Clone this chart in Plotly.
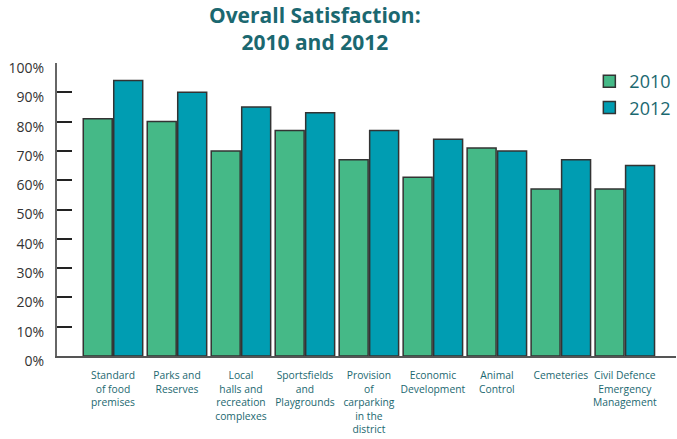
import plotly.graph_objects as go

categories = [
    "Standard<br>of food<br>premises",
    "Parks and<br>Reserves",
    "Local<br>halls and<br>recreation<br>complexes",
    "Sportsfields<br>and<br>Playgrounds",
    "Provision<br>of<br>carparking<br>in the<br>district",
    "Economic<br>Development",
    "Animal<br>Control",
    "Cemeteries",
    "Civil Defence<br>Emergency<br>Management",
]
values_2010 = [81, 80, 70, 77, 67, 61, 71, 57, 57]
values_2012 = [94, 90, 85, 83, 77, 74, 70, 67, 65]
y_ticks = [0, 10, 20, 30, 40, 50, 60, 70, 80, 90, 100]
y_tick_labels = [f"{v}%" for v in y_ticks]

x_idx = list(range(len(categories)))

fig = go.Figure()
fig.add_trace(go.Bar(x=x_idx, y=values_2010, name="2010",
                     marker=dict(color="#45b987", line=dict(color="#333333", width=1.5))))
fig.add_trace(go.Bar(x=x_idx, y=values_2012, name="2012",
                     marker=dict(color="#009db2", line=dict(color="#333333", width=1.5))))

fig.update_layout(
    width=677, height=439,
    margin=dict(l=57, r=1, t=63, b=83, autoexpand=False),
    paper_bgcolor="white", plot_bgcolor="white",
    barmode="group", bargap=0.047, bargroupgap=0.05,
    font=dict(family="Open Sans", color="#333333"),
    title=dict(text="<b>Overall Satisfaction:<br>2010 and 2012</b>",
               x=0.465, xanchor="center", y=0.948, yanchor="top",
               font=dict(size=21, color="#1b6870", family="Open Sans")),
    legend=dict(x=0.86, y=1.0, xanchor="left", yanchor="top",
                font=dict(size=18, color="#1b6870"), bgcolor="rgba(0,0,0,0)",
                tracegroupgap=0, itemwidth=30),
    showlegend=True,
)
fig.update_xaxes(
    range=[-0.875, 8.8], tickmode="array", tickvals=x_idx, ticktext=categories,
    showline=True, linecolor="#555555", linewidth=2, ticks="",
    tickfont=dict(size=10.3, color="#1b6870"), showgrid=False, zeroline=False,
    tickangle=0, ticklabelstandoff=9, automargin=False,
)
fig.update_yaxes(
    range=[0, 100], tickmode="array", tickvals=y_ticks, ticktext=y_tick_labels,
    showline=True, linecolor="#666666", linewidth=2, ticks="inside", ticklen=15,
    tickcolor="#222222", tickwidth=2, tickfont=dict(size=14, color="#333333"),
    showgrid=False, zeroline=False, ticklabelstandoff=8, ticklabelshift=5,
    automargin=False,
)

fig.write_html("out.html")
